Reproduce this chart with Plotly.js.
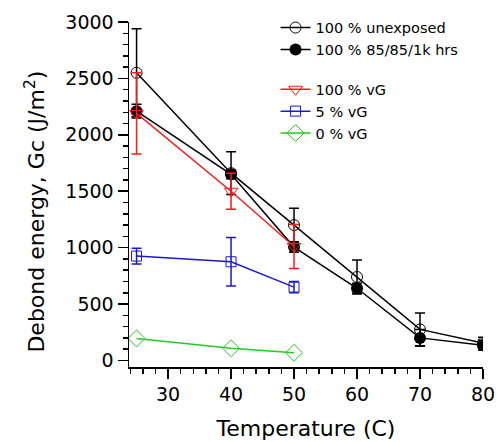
<!DOCTYPE html>
<html>
<head>
<meta charset="utf-8">
<script src="https://cdn.plot.ly/plotly-3.0.1.min.js"></script>
<style>html,body{margin:0;padding:0;background:#fff;}#chart{width:503px;height:442px;}</style>
</head>
<body>
<div id="chart"></div>
<script>
// Data
const tempAll = [25, 40, 50, 60, 70, 80];
const tempVG = [25, 40, 50];

const unexposed = [2550, 1660, 1200, 740, 275, 155];
const unexposedErr = [390, 190, 150, 150, 145, 50];

const aged = [2210, 1650, 1005, 640, 200, 135];
const agedErr = [60, 40, 45, 45, 75, 45];

const vg100 = [2190, 1500, 1010];
const vg100Err = [360, 160, 195];

const vg5 = [925, 875, 650];
const vg5Err = [70, 215, 50];

const vg0 = [195, 108, 68];

const names = ['100 % unexposed', '100 % 85/85/1k hrs', '100 % vG', '5 % vG', '0 % vG'];
const xTitle = 'Temperature (C)';
const yTitle = 'Debond energy, Gc (J/m<sup>2</sup>)';

function errObj(arr, color) {
  return {type: 'data', array: arr, visible: true, color: color, thickness: 1.5, width: 5};
}

const black = '#000000', red = '#ff1a1a', blue = '#1a1acc', green = '#22cc22';

const traces = [
  {x: tempAll, y: unexposed, name: names[0], legendgroup: 'a', mode: 'lines+markers',
   line: {color: black, width: 1.5},
   marker: {symbol: 'circle-open', size: 11, color: black, line: {width: 1, color: black}},
   error_y: errObj(unexposedErr, black)},
  {x: tempAll, y: aged, name: names[1], legendgroup: 'a', mode: 'lines+markers',
   line: {color: black, width: 1.5},
   marker: {symbol: 'circle', size: 12, color: black},
   error_y: errObj(agedErr, black)},
  {x: tempVG, y: vg100, name: names[2], legendgroup: 'b', mode: 'lines+markers',
   line: {color: red, width: 1.5},
   marker: {symbol: 'triangle-down-open', size: 12, color: red, line: {width: 1, color: red}},
   error_y: errObj(vg100Err, red)},
  {x: tempVG, y: vg5, name: names[3], legendgroup: 'b', mode: 'lines+markers',
   line: {color: blue, width: 1.5},
   marker: {symbol: 'square-open', size: 10, color: blue, line: {width: 1, color: blue}},
   error_y: errObj(vg5Err, blue)},
  {x: tempVG, y: vg0, name: names[4], legendgroup: 'b', mode: 'lines+markers',
   line: {color: green, width: 1.5},
   marker: {symbol: 'diamond-open', size: 13, color: green, line: {width: 1, color: green}}}
];

const font = 'DejaVu Sans, sans-serif';

const layout = {
  width: 503, height: 442,
  margin: {l: 129, r: 20, t: 14, b: 75},
  paper_bgcolor: '#fff', plot_bgcolor: '#fff',
  font: {family: font, color: '#000'},
  showlegend: true,
  legend: {x: 0.414, y: 1.03, xanchor: 'left', yanchor: 'top', traceorder: 'grouped',
           tracegroupgap: 18, font: {family: font, size: 14.5, color: '#000'},
           bgcolor: 'rgba(0,0,0,0)', itemwidth: 30},
  xaxis: {
    range: [23.8, 80], tick0: 0, dtick: 10, showgrid: false, zeroline: false,
    showline: true, linecolor: '#000', linewidth: 1.5,
    ticks: 'outside', ticklen: 10, tickwidth: 1.5, tickcolor: '#000',
    tickfont: {family: font, size: 19, color: '#000'},
    minor: {dtick: 2, tick0: 0, ticks: 'outside', ticklen: 5, tickwidth: 1.5, tickcolor: '#000', showgrid: false},
    title: {text: xTitle, font: {family: font, size: 22, color: '#000'}, standoff: 16}
  },
  yaxis: {
    range: [-58, 3000], tick0: 0, dtick: 500, showgrid: false, zeroline: false,
    showline: true, linecolor: '#000', linewidth: 1.5,
    ticks: 'outside', ticklen: 10, tickwidth: 1.5, tickcolor: '#000',
    tickfont: {family: font, size: 19, color: '#000'},
    minor: {dtick: 100, tick0: 0, ticks: 'outside', ticklen: 5, tickwidth: 1.5, tickcolor: '#000', showgrid: false}
  },
  annotations: [{
    text: yTitle, textangle: -90, xref: 'paper', yref: 'paper',
    x: -0.266, y: 0.45, xanchor: 'center', yanchor: 'middle', showarrow: false,
    font: {family: font, size: 22, color: '#000'}
  }]
};

Plotly.newPlot('chart', traces, layout, {displayModeBar: false, staticPlot: true});
</script>
</body>
</html>
